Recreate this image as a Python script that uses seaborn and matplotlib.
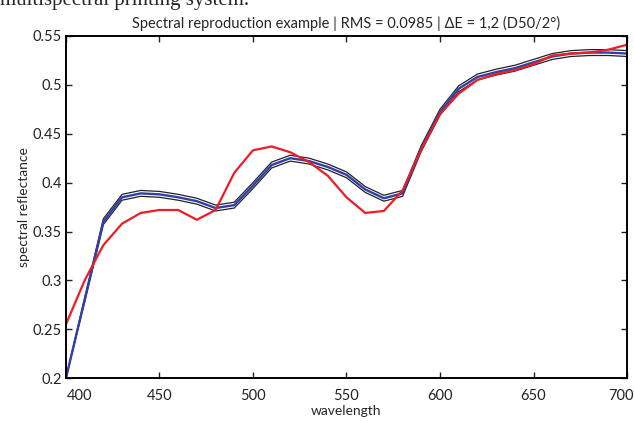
import matplotlib
matplotlib.use("Agg")
import matplotlib.pyplot as plt
import matplotlib.transforms as mtransforms
import seaborn as sns
import pandas as pd

# wavelengths (nm) and reflectance curves
wavelength = list(range(400, 701, 10))

target = [0.255, 0.300, 0.336, 0.358, 0.369, 0.372, 0.372, 0.362, 0.372, 0.410,
          0.433, 0.437, 0.431, 0.421, 0.407, 0.385, 0.369, 0.371, 0.392, 0.434,
          0.470, 0.491, 0.505, 0.511, 0.515, 0.521, 0.530, 0.532, 0.533, 0.536,
          0.541]

reproduction = [0.200, 0.280, 0.360, 0.385, 0.389, 0.388, 0.385, 0.381, 0.374, 0.377,
                0.397, 0.418, 0.425, 0.422, 0.416, 0.408, 0.393, 0.384, 0.389, 0.435,
                0.472, 0.496, 0.508, 0.513, 0.517, 0.523, 0.529, 0.532, 0.533, 0.533,
                0.532]

upper = [0.200, 0.282, 0.363, 0.388, 0.392, 0.391, 0.388, 0.384, 0.377, 0.380,
         0.400, 0.421, 0.428, 0.425, 0.419, 0.411, 0.396, 0.387, 0.392, 0.438,
         0.475, 0.499, 0.511, 0.516, 0.520, 0.526, 0.532, 0.535, 0.536, 0.536,
         0.535]

lower = [0.200, 0.278, 0.357, 0.382, 0.386, 0.385, 0.382, 0.378, 0.371, 0.374,
         0.394, 0.415, 0.422, 0.419, 0.413, 0.405, 0.390, 0.381, 0.386, 0.432,
         0.469, 0.493, 0.505, 0.510, 0.514, 0.520, 0.526, 0.529, 0.530, 0.530,
         0.529]

x_ticks = [400, 450, 500, 550, 600, 650, 700]
y_ticks = [0.2, 0.25, 0.3, 0.35, 0.4, 0.45, 0.5, 0.55]

df = pd.DataFrame({"wavelength": wavelength, "target": target,
                   "reproduction": reproduction, "upper": upper, "lower": lower})

sns.set_style("ticks")
plt.rcParams["font.family"] = ["Lato", "DejaVu Sans"]

fig = plt.figure(figsize=(6.34, 4.23), dpi=100)
ax = fig.add_axes([0.104, 0.106, 0.885, 0.809])

sns.lineplot(data=df, x="wavelength", y="upper", ax=ax, color="#222222", lw=0.9)
sns.lineplot(data=df, x="wavelength", y="lower", ax=ax, color="#222222", lw=0.9)
sns.lineplot(data=df, x="wavelength", y="reproduction", ax=ax, color="#3040a8", lw=1.7)
sns.lineplot(data=df, x="wavelength", y="target", ax=ax, color="#ee1c25", lw=1.6)

ax.set_xlim(400, 700)
ax.set_ylim(0.2, 0.55)
ax.set_xticks(x_ticks)
ax.set_yticks(y_ticks)
ax.set_yticklabels([f"{v:g}" for v in y_ticks])
ax.tick_params(direction="in", top=True, right=True, length=4, width=1,
               labelsize=10.5, colors="#222222", pad=8)
ax.tick_params(axis="y", pad=3)
for s in ax.spines.values():
    s.set_linewidth(1.4)
    s.set_color("black")

# end x labels sit inside the corners, as in the reference
xlabels = ax.get_xticklabels()
first, last = xlabels[0], xlabels[-1]
first.set_transform(first.get_transform() + mtransforms.ScaledTranslation(14 / 100, 0, fig.dpi_scale_trans))
last.set_transform(last.get_transform() + mtransforms.ScaledTranslation(-6 / 100, 0, fig.dpi_scale_trans))

ax.set_xlabel("wavelength", fontsize=10, labelpad=1)
ax.set_ylabel("spectral reflectance", fontsize=10, labelpad=2)
ax.set_title("Spectral reproduction example | RMS = 0.0985 | \u0394E = 1,2 (D50/2\u00b0)",
             fontsize=10.5, pad=6)

# partly visible line of body text above the figure
fig.text(0.0, 1.0, "multispectral printing system.", fontsize=15,
         family="Liberation Serif", va="center", ha="left")

fig.savefig("out.png", dpi=100)
